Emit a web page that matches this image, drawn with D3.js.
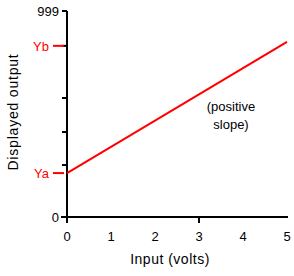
<!DOCTYPE html>
<html>
<head>
<script src="https://d3js.org/d3.v7.min.js"></script>
<style>
    body { margin: 0; background: #fff; }
    text { font-family: "Liberation Sans", Arial, sans-serif; }
</style>
</head>
<body>
<div id="chart"></div>
<script>
// data
var xTickLabels = [0, 1, 2, 3, 4, 5];
var xTickMarks = [0, 3];
var yTickMarks = [0, 252, 412, 577, 830, 999];
var yTickLabels = [0, 999];
var lineX = [0, 5];
var lineY = [213, 849];
var markers = [{name: "Ya", value: 213}, {name: "Yb", value: 830}];

var width = 294, height = 276;
var svg = d3.select("#chart").append("svg")
    .attr("width", width)
    .attr("height", height);

var x = d3.scaleLinear().domain([0, 5]).range([67, 287]);
var y = d3.scaleLinear().domain([0, 999]).range([217, 11]);

// y axis
svg.append("line")
    .attr("x1", x(0)).attr("x2", x(0))
    .attr("y1", y(999)).attr("y2", y(0) + 6)
    .attr("stroke", "#000").attr("stroke-width", 2);

svg.selectAll(".ytick")
    .data(yTickMarks)
    .enter().append("line")
    .attr("x1", x(0) - 5).attr("x2", x(0))
    .attr("y1", function (d) { return y(d); })
    .attr("y2", function (d) { return y(d); })
    .attr("stroke", "#000").attr("stroke-width", 2);

svg.selectAll(".ylab")
    .data(yTickLabels)
    .enter().append("text")
    .attr("x", x(0) - 8)
    .attr("y", function (d) { return y(d) + 5; })
    .attr("text-anchor", "end")
    .attr("font-size", 13)
    .text(function (d) { return d; });

// x axis
svg.append("line")
    .attr("x1", x(0) - 6).attr("x2", x(5) + 1)
    .attr("y1", y(0)).attr("y2", y(0))
    .attr("stroke", "#000").attr("stroke-width", 2);

svg.selectAll(".xtick")
    .data(xTickMarks)
    .enter().append("line")
    .attr("x1", function (d) { return x(d); })
    .attr("x2", function (d) { return x(d); })
    .attr("y1", y(0)).attr("y2", y(0) + 6)
    .attr("stroke", "#000").attr("stroke-width", 2);

svg.selectAll(".xlab")
    .data(xTickLabels)
    .enter().append("text")
    .attr("x", function (d) { return x(d); })
    .attr("y", 241)
    .attr("text-anchor", "middle")
    .attr("font-size", 13)
    .text(function (d) { return d; });

// axis titles
svg.append("text")
    .attr("x", 170).attr("y", 264)
    .attr("text-anchor", "middle")
    .attr("font-size", 14)
    .attr("letter-spacing", 0.5)
    .text("Input (volts)");

svg.append("text")
    .attr("transform", "translate(18,112) rotate(-90)")
    .attr("text-anchor", "middle")
    .attr("font-size", 14)
    .attr("letter-spacing", 0.8)
    .text("Displayed output");

// red markers
svg.selectAll(".mk")
    .data(markers)
    .enter().append("line")
    .attr("x1", x(0) - 14).attr("x2", x(0) - 3)
    .attr("y1", function (d) { return y(d.value); })
    .attr("y2", function (d) { return y(d.value); })
    .attr("stroke", "#f00").attr("stroke-width", 2);

svg.selectAll(".mklab")
    .data(markers)
    .enter().append("text")
    .attr("x", x(0) - 18)
    .attr("y", function (d) { return y(d.value) + 5; })
    .attr("text-anchor", "end")
    .attr("font-size", 13)
    .attr("fill", "#f00")
    .text(function (d) { return d.name; });

// the line
var pts = lineX.map(function (d, i) { return [d, lineY[i]]; });
svg.append("path")
    .datum(pts)
    .attr("fill", "none")
    .attr("stroke", "#f00")
    .attr("stroke-width", 2)
    .attr("d", d3.line().x(function (d) { return x(d[0]); }).y(function (d) { return y(d[1]); }));

// annotation
svg.append("text")
    .attr("x", 231).attr("y", 111)
    .attr("text-anchor", "middle")
    .attr("font-size", 13)
    .text("(positive");
svg.append("text")
    .attr("x", 231).attr("y", 129)
    .attr("text-anchor", "middle")
    .attr("font-size", 13)
    .text("slope)");
</script>
</body>
</html>
